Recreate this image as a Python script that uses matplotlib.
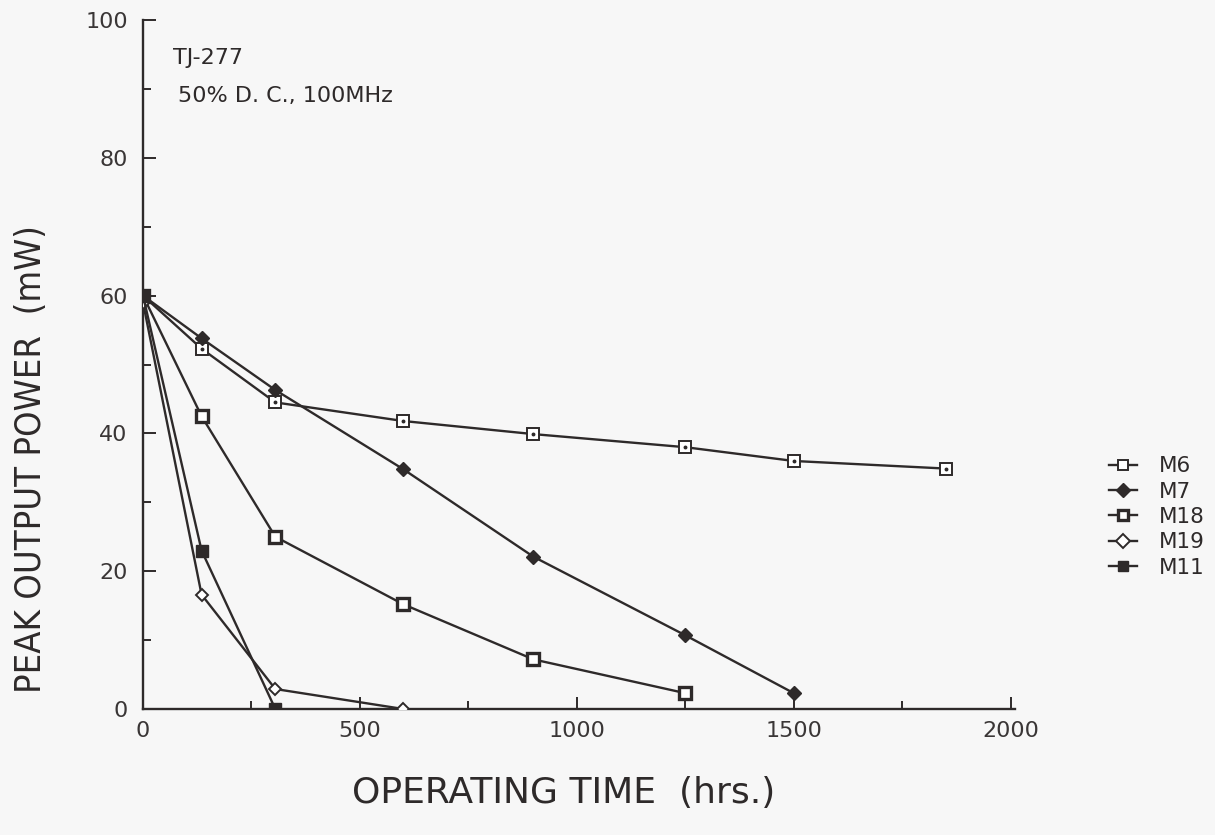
import matplotlib
matplotlib.use("Agg")
import matplotlib.pyplot as plt
from matplotlib.ticker import MultipleLocator

plt.rcParams['font.family'] = ['DejaVu Sans']

# Operating time (hrs.) and peak output power (mW) for each device
t_m6 = [0, 135, 305, 600, 900, 1250, 1500, 1850]
p_m6 = [60, 52.3, 44.5, 41.8, 39.9, 38.0, 36.0, 34.9]

t_m7 = [0, 135, 305, 600, 900, 1250, 1500]
p_m7 = [60, 53.8, 46.3, 34.8, 22.1, 10.7, 2.3]

t_m18 = [0, 135, 305, 600, 900, 1250]
p_m18 = [60, 42.5, 25.0, 15.2, 7.2, 2.3]

t_m19 = [0, 135, 305, 600]
p_m19 = [59, 16.6, 2.9, 0.0]

t_m11 = [0, 135, 305]
p_m11 = [60, 23.0, 0.0]

ink = '#2e2a2a'
paper = '#f7f7f7'

fig = plt.figure(figsize=(12.15, 8.35), dpi=100, facecolor=paper)
ax = fig.add_axes([0.1177, 0.1509, 0.7177, 0.8251], facecolor=paper)

lw = 1.7
ms = 8.5
ax.plot(t_m6, p_m6, color=ink, lw=lw, marker='s', ms=ms, mfc='white', mec=ink, mew=1.4, label='M6', zorder=3)
ax.plot(t_m6, p_m6, ls='none', marker='o', ms=1.8, color=ink, zorder=4)
ax.plot(t_m7, p_m7, color=ink, lw=lw, marker='D', ms=7.5, mfc=ink, mec=ink, label='M7', zorder=3)
ax.plot(t_m18, p_m18, color=ink, lw=lw, marker='s', ms=ms, mfc='white', mec=ink, mew=2.4, label='M18', zorder=3)
ax.plot(t_m19, p_m19, color=ink, lw=lw, marker='D', ms=6.5, mfc='white', mec=ink, mew=1.4, label='M19', zorder=3)
ax.plot(t_m11, p_m11, color=ink, lw=lw, marker='s', ms=ms, mfc=ink, mec=ink, label='M11', zorder=3)

ax.set_xlim(0, 2010)
ax.set_ylim(0, 100)
ax.xaxis.set_major_locator(MultipleLocator(500))
ax.xaxis.set_minor_locator(MultipleLocator(250))
ax.yaxis.set_major_locator(MultipleLocator(20))
ax.yaxis.set_minor_locator(MultipleLocator(10))

for s in ('top', 'right'):
    ax.spines[s].set_visible(False)
for s in ('left', 'bottom'):
    ax.spines[s].set_color(ink)
    ax.spines[s].set_linewidth(1.7)

ax.tick_params(which='major', direction='in', length=9, width=1.4, color=ink,
               labelsize=16, labelcolor='#3a3636')
ax.tick_params(which='minor', direction='in', length=6, width=1.4, color=ink)
ax.tick_params(axis='x', which='major', pad=9)
ax.tick_params(axis='y', which='major', pad=11)

ax.set_xlabel('OPERATING TIME  (hrs.)', fontsize=26, color=ink)
ax.xaxis.set_label_coords(0.482, -0.122)
ax.xaxis.label.set_verticalalignment('center')
ax.set_ylabel('PEAK OUTPUT POWER  (mW)', fontsize=26, color=ink, fontstretch='condensed')
ax.yaxis.set_label_coords(-0.128, 0.363)
ax.yaxis.label.set_verticalalignment('center')

ax.text(69, 94.5, 'TJ-277', fontsize=16, color=ink, ha='left', va='center')
ax.text(80, 89.0, '50% D. C., 100MHz', fontsize=16, color=ink, ha='left', va='center')

leg = ax.legend(loc='upper left', bbox_to_anchor=(1.086, 0.395), frameon=False,
                fontsize=15.5, handlelength=1.3, handletextpad=1.0, labelspacing=0.25,
                labelcolor=ink)
for h in leg.legend_handles:
    h.set_markersize(7)

fig.savefig('out.png', dpi=100, facecolor=paper)
